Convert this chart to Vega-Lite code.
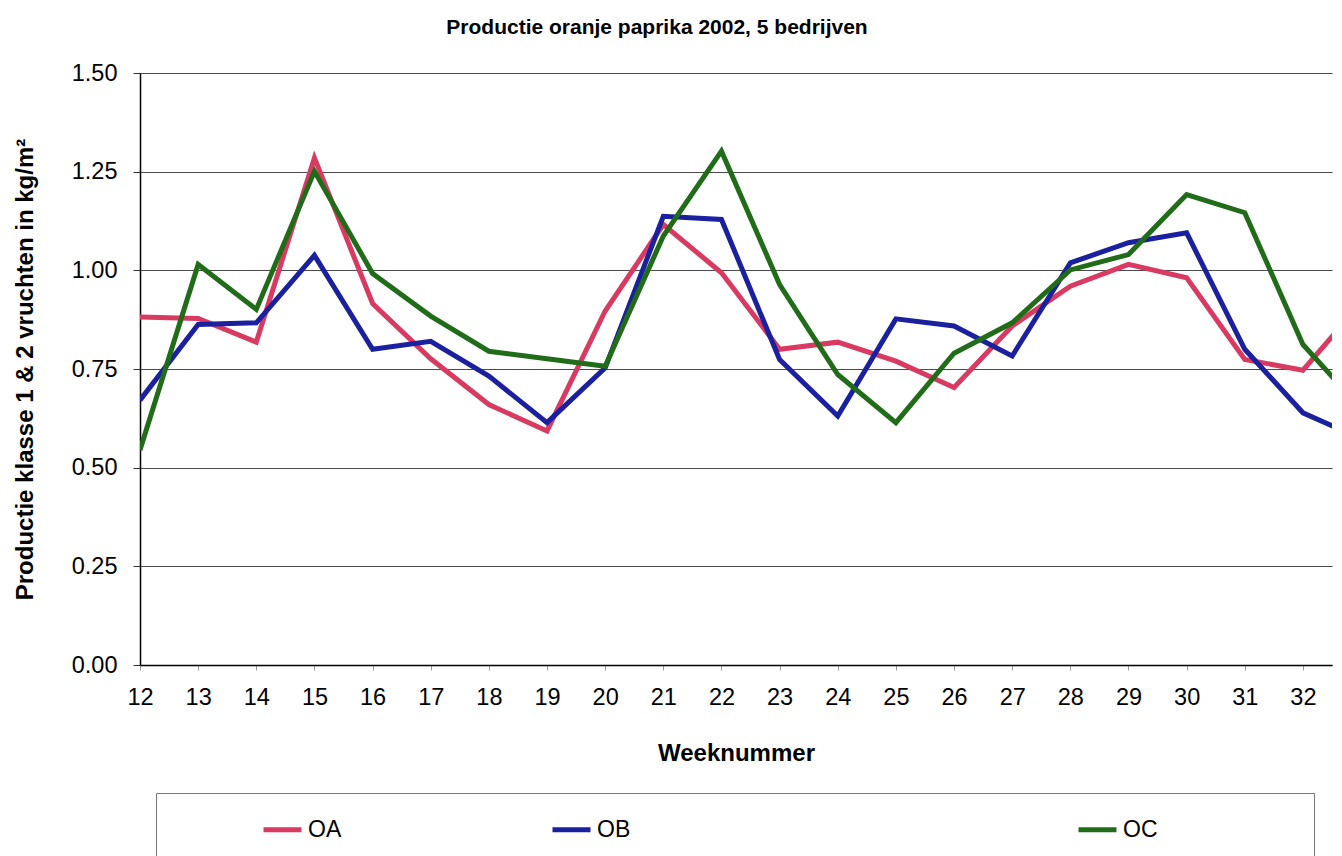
{
  "$schema": "https://vega.github.io/schema/vega-lite/v6.json",
  "width": 1192,
  "height": 592,
  "autosize": {"type": "none"},
  "padding": {"left": 140, "top": 73, "right": 10, "bottom": 191},
  "background": "white",
  "title": {
    "text": "Productie oranje paprika 2002, 5 bedrijven",
    "font": "Liberation Sans",
    "fontSize": 21,
    "fontWeight": "bold",
    "color": "black",
    "anchor": "middle",
    "dx": -79,
    "offset": 23
  },
  "data": {
    "values": [
      {"week": 12, "series": "OA", "value": 0.882}, {"week": 12, "series": "OB", "value": 0.671}, {"week": 12, "series": "OC", "value": 0.545},
      {"week": 13, "series": "OA", "value": 0.878}, {"week": 13, "series": "OB", "value": 0.863}, {"week": 13, "series": "OC", "value": 1.015},
      {"week": 14, "series": "OA", "value": 0.818}, {"week": 14, "series": "OB", "value": 0.867}, {"week": 14, "series": "OC", "value": 0.901},
      {"week": 15, "series": "OA", "value": 1.285}, {"week": 15, "series": "OB", "value": 1.038}, {"week": 15, "series": "OC", "value": 1.251},
      {"week": 16, "series": "OA", "value": 0.916}, {"week": 16, "series": "OB", "value": 0.800}, {"week": 16, "series": "OC", "value": 0.992},
      {"week": 17, "series": "OA", "value": 0.776}, {"week": 17, "series": "OB", "value": 0.820}, {"week": 17, "series": "OC", "value": 0.884},
      {"week": 18, "series": "OA", "value": 0.660}, {"week": 18, "series": "OB", "value": 0.732}, {"week": 18, "series": "OC", "value": 0.795},
      {"week": 19, "series": "OA", "value": 0.593}, {"week": 19, "series": "OB", "value": 0.614}, {"week": 19, "series": "OC", "value": 0.776},
      {"week": 20, "series": "OA", "value": 0.897}, {"week": 20, "series": "OB", "value": 0.753}, {"week": 20, "series": "OC", "value": 0.757},
      {"week": 21, "series": "OA", "value": 1.116}, {"week": 21, "series": "OB", "value": 1.137}, {"week": 21, "series": "OC", "value": 1.087},
      {"week": 22, "series": "OA", "value": 0.994}, {"week": 22, "series": "OB", "value": 1.129}, {"week": 22, "series": "OC", "value": 1.302},
      {"week": 23, "series": "OA", "value": 0.800}, {"week": 23, "series": "OB", "value": 0.774}, {"week": 23, "series": "OC", "value": 0.964},
      {"week": 24, "series": "OA", "value": 0.818}, {"week": 24, "series": "OB", "value": 0.631}, {"week": 24, "series": "OC", "value": 0.736},
      {"week": 25, "series": "OA", "value": 0.770}, {"week": 25, "series": "OB", "value": 0.877}, {"week": 25, "series": "OC", "value": 0.614},
      {"week": 26, "series": "OA", "value": 0.703}, {"week": 26, "series": "OB", "value": 0.859}, {"week": 26, "series": "OC", "value": 0.790},
      {"week": 27, "series": "OA", "value": 0.859}, {"week": 27, "series": "OB", "value": 0.783}, {"week": 27, "series": "OC", "value": 0.867},
      {"week": 28, "series": "OA", "value": 0.960}, {"week": 28, "series": "OB", "value": 1.019}, {"week": 28, "series": "OC", "value": 1.001},
      {"week": 29, "series": "OA", "value": 1.015}, {"week": 29, "series": "OB", "value": 1.070}, {"week": 29, "series": "OC", "value": 1.040},
      {"week": 30, "series": "OA", "value": 0.981}, {"week": 30, "series": "OB", "value": 1.095}, {"week": 30, "series": "OC", "value": 1.192},
      {"week": 31, "series": "OA", "value": 0.774}, {"week": 31, "series": "OB", "value": 0.800}, {"week": 31, "series": "OC", "value": 1.146},
      {"week": 32, "series": "OA", "value": 0.747}, {"week": 32, "series": "OB", "value": 0.639}, {"week": 32, "series": "OC", "value": 0.812},
      {"week": 33, "series": "OA", "value": 0.917}, {"week": 33, "series": "OB", "value": 0.573}, {"week": 33, "series": "OC", "value": 0.650}
    ]
  },
  "mark": {"type": "line", "strokeWidth": 5, "clip": true},
  "encoding": {
    "x": {
      "field": "week",
      "type": "quantitative",
      "scale": {"domain": [12, 32.5], "nice": false, "zero": false},
      "axis": {
        "values": [12, 13, 14, 15, 16, 17, 18, 19, 20, 21, 22, 23, 24, 25, 26, 27, 28, 29, 30, 31, 32],
        "format": "d",
        "grid": false,
        "labelFont": "Liberation Sans",
        "labelFontSize": 23.5,
        "labelColor": "black",
        "labelPadding": 15,
        "labelFlush": false,
        "labelOverlap": false,
        "tickColor": "#999999",
        "tickSize": 5,
        "domainColor": "black",
        "domainWidth": 1.5,
        "title": "Weeknummer",
        "titleFont": "Liberation Sans",
        "titleFontSize": 24,
        "titleFontWeight": "bold",
        "titleColor": "black",
        "titlePadding": 33
      }
    },
    "y": {
      "field": "value",
      "type": "quantitative",
      "scale": {"domain": [0, 1.5], "nice": false},
      "axis": {
        "values": [0, 0.25, 0.5, 0.75, 1, 1.25, 1.5],
        "format": ".2f",
        "grid": true,
        "gridColor": "#4a4a4a",
        "gridWidth": 1.2,
        "labelFont": "Liberation Sans",
        "labelFontSize": 23.5,
        "labelColor": "black",
        "labelPadding": 16,
        "tickColor": "#333333",
        "tickSize": 7,
        "domainColor": "black",
        "domainWidth": 1.5,
        "title": "Productie klasse 1 & 2 vruchten in kg/m²",
        "titleFont": "Liberation Sans",
        "titleFontSize": 24,
        "titleFontWeight": "bold",
        "titleColor": "black",
        "titlePadding": 34
      }
    },
    "color": {
      "field": "series",
      "type": "nominal",
      "scale": {"domain": ["OA", "OB", "OC"], "range": ["#d93a62", "#1a209e", "#206c19"]},
      "legend": {
        "title": null,
        "orient": "none",
        "legendX": 16,
        "legendY": 720,
        "direction": "horizontal",
        "columns": 3,
        "symbolType": "stroke",
        "symbolSize": 1444,
        "symbolStrokeWidth": 5,
        "symbolOffset": 90,
        "labelFont": "Liberation Sans",
        "labelFontSize": 23,
        "labelColor": "black",
        "labelOffset": 4,
        "labelLimit": 700,
        "labelExpr": "(datum.label == 'OA' ? pad(datum.label, 19, '\u00a0') : datum.label == 'OB' ? pad(datum.label, 56, '\u00a0') : pad(datum.label, 24, '\u00a0')) + '\u200b'",
        "columnPadding": 10,
        "padding": 15,
        "strokeColor": "#777777",
        "fillColor": "white"
      }
    }
  },
  "config": {"view": {"stroke": null}}
}
